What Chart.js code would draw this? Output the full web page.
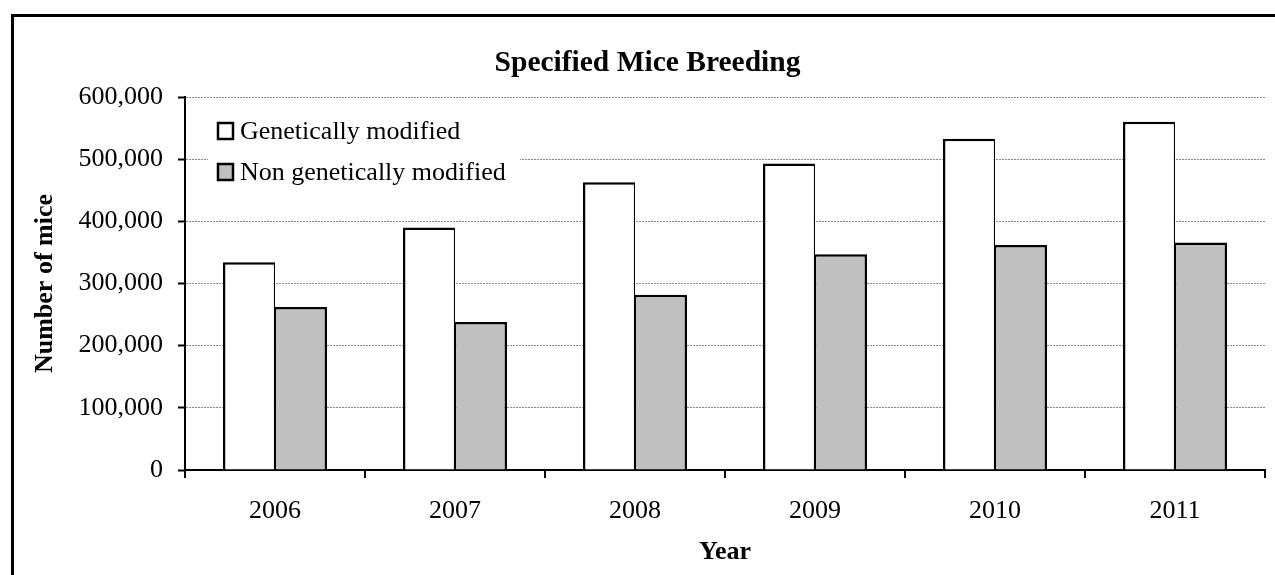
<!DOCTYPE html>
<html>
<head>
<meta charset="utf-8">
<script src="https://cdn.jsdelivr.net/npm/chart.js@4.4.1/dist/chart.umd.min.js"></script>
<style>
  html, body { margin: 0; padding: 0; background: #fff; }
  #wrap { width: 1275px; height: 575px; position: relative; }
</style>
</head>
<body>
<div id="wrap"><canvas id="c" width="1275" height="575"></canvas></div>
<script>
const categories = ['2006', '2007', '2008', '2009', '2010', '2011'];
const seriesNames = ['Genetically modified', 'Non genetically modified'];
const geneticallyModified = [334000, 390000, 463000, 493000, 533000, 560000];
const nonGeneticallyModified = [262000, 238000, 282000, 347000, 362000, 366000];
const yTicks = [0, 100000, 200000, 300000, 400000, 500000, 600000];
const chartTitle = 'Specified Mice Breeding';
const xTitle = 'Year';
const yTitle = 'Number of mice';

const FONT = "'Liberation Serif', 'Times New Roman', serif";

const framePlugin = {
  id: 'frame',
  afterDraw(chart) {
    const ctx = chart.ctx;
    ctx.save();
    ctx.strokeStyle = '#000';
    ctx.lineWidth = 3;
    ctx.beginPath();
    ctx.moveTo(12.5, 576);
    ctx.lineTo(12.5, 15.5);
    ctx.lineTo(1276, 15.5);
    ctx.stroke();
    ctx.restore();
  }
};

const legendPlugin = {
  id: 'boxLegend',
  afterDatasetsDraw(chart) {
    const ctx = chart.ctx;
    ctx.save();
    ctx.fillStyle = '#fff';
    ctx.fillRect(208, 105, 312, 88);
    ctx.font = '26px ' + FONT;
    ctx.textBaseline = 'middle';
    ctx.textAlign = 'left';
    chart.data.datasets.forEach((ds, i) => {
      const y = 131 + i * 41;
      ctx.fillStyle = ds.backgroundColor;
      ctx.fillRect(218, y - 8, 15, 16);
      ctx.strokeStyle = '#000';
      ctx.lineWidth = 2.5;
      ctx.strokeRect(218, y - 8, 15, 16);
      ctx.fillStyle = '#000';
      ctx.fillText(ds.label, 240, y + 1);
    });
    ctx.restore();
  }
};

new Chart(document.getElementById('c'), {
  type: 'bar',
  data: {
    labels: categories,
    datasets: [
      { label: seriesNames[0], data: geneticallyModified, backgroundColor: '#ffffff', borderColor: '#000',
        borderWidth: { top: 2.5, left: 2.5, right: 1.25, bottom: 0 }, borderSkipped: 'bottom' },
      { label: seriesNames[1], data: nonGeneticallyModified, backgroundColor: '#c0c0c0', borderColor: '#000',
        borderWidth: { top: 2.5, left: 1.25, right: 2.5, bottom: 0 }, borderSkipped: 'bottom' }
    ]
  },
  options: {
    responsive: false,
    animation: false,
    devicePixelRatio: 1,
    layout: { padding: { left: 30, right: 10, top: 0, bottom: 0 } },
    datasets: { bar: { categoryPercentage: 0.578, barPercentage: 1 } },
    plugins: {
      legend: { display: false },
      tooltip: { enabled: false },
      title: {
        display: true,
        text: chartTitle,
        color: '#000',
        font: { family: FONT, size: 29.5, weight: 'bold', lineHeight: 1.2 },
        padding: { top: 45.3, bottom: 16.3 }
      }
    },
    scales: {
      x: {
        offset: true,
        grid: { offset: true, drawOnChartArea: false, drawTicks: true, tickLength: 8, color: '#000', tickColor: '#000', lineWidth: 2 },
        border: { display: true, color: '#000', width: 2 },
        ticks: { color: '#000', font: { family: FONT, size: 26 }, padding: 18, maxRotation: 0 },
        title: { display: true, text: xTitle, color: '#000', font: { family: FONT, size: 26, weight: 'bold', lineHeight: 1.2 }, padding: { top: 0, bottom: 7 } },
        afterFit(scale) { scale.height = 105; }
      },
      y: {
        min: 0,
        max: 600000,
        afterBuildTicks(scale) { scale.ticks = yTicks.map(v => ({ value: v })); },
        grid: { color: '#8a8a8a', lineWidth: 1, tickColor: '#000', tickWidth: 2, tickLength: 7, tickBorderDash: [] },
        border: { display: true, color: '#000', width: 2, dash: [2, 1] },
        ticks: {
          color: '#000',
          font: { family: FONT, size: 26 },
          padding: 15,
          callback: v => Number(v).toLocaleString('en-US')
        },
        title: { display: true, text: yTitle, color: '#000', font: { family: FONT, size: 26, weight: 'bold', lineHeight: 1.2 }, padding: { top: 0, bottom: 0 } },
        afterFit(scale) { scale.width = 155; }
      }
    }
  },
  plugins: [framePlugin, legendPlugin]
});
</script>
</body>
</html>
